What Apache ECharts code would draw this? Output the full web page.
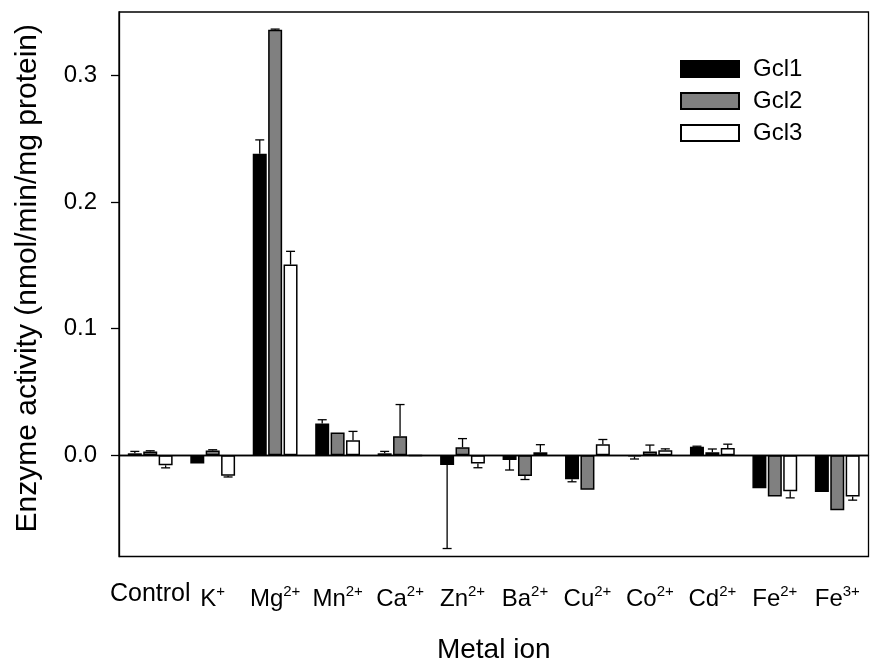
<!DOCTYPE html>
<html>
<head>
<meta charset="utf-8">
<script src="https://cdn.jsdelivr.net/npm/echarts@6/dist/echarts.min.js"></script>
<style>html,body{margin:0;padding:0;background:#fff;}#c{width:870px;height:667px;}</style>
</head>
<body>
<div id="c"></div>
<script>
// Categories (ion symbol + charge superscript)
var ionNames   = ['Control','K','Mg','Mn','Ca','Zn','Ba','Cu','Co','Cd','Fe','Fe'];
var ionCharges = ['', '+', '2+', '2+', '2+', '2+', '2+', '2+', '2+', '2+', '2+', '3+'];

// Series values (nmol/min/mg protein) and error bars
var gcl1    = [0.0015, -0.0065, 0.238, 0.025, 0.0015, -0.0077, -0.0037, -0.019, -0.001, 0.0066, -0.0262, -0.029];
var gcl1Err = [0.0015, 0, 0.011, 0.003, 0.0015, 0.066, 0.008, 0.002, 0.002, 0.0005, 0, 0];
var gcl2    = [0.003, 0.0038, 0.336, 0.018, 0.015, 0.0063, -0.0165, -0.0272, 0.003, 0.0024, -0.0327, -0.0434];
var gcl2Err = [0.0005, 0.0005, 0.0005, 0, 0.025, 0.0068, 0.0027, 0, 0.005, 0.0025, 0, 0];
var gcl3    = [-0.008, -0.0162, 0.1505, 0.0118, -0.0004, -0.0065, 0.0023, 0.0087, 0.004, 0.0056, -0.0284, -0.0327];
var gcl3Err = [0.002, 0.001, 0.0105, 0.007, 0, 0.0034, 0.006, 0.0037, 0.001, 0.0031, 0.0053, 0.0028];

// Tick labels
var yTicks = [0, 0.1, 0.2, 0.3];

var FONT = 'Liberation Sans, Arial, Helvetica, sans-serif';
var BAR_W = 14;
var BAR_GAP = 0.1;

var categories = ionNames.map(function (n, i) { return n + ionCharges[i]; });

function errSeries(name, vals, errs, k) {
  return {
    type: 'custom',
    name: name + ' err',
    z: 5,
    silent: true,
    data: vals.map(function (v, i) { return [i, v, errs[i]]; }),
    renderItem: function (params, api) {
      var idx = api.value(0), v = api.value(1), e = api.value(2);
      if (!e) return null;
      var sign = v < 0 ? -1 : 1;
      var p0 = api.coord([idx, v]);
      var p1 = api.coord([idx, v + sign * e]);
      var x = p0[0] + (k - 1) * BAR_W * (1 + BAR_GAP);
      var st = { stroke: '#000', lineWidth: 1.3 };
      return {
        type: 'group',
        children: [
          { type: 'line', shape: { x1: x, y1: p0[1], x2: x, y2: p1[1] }, style: st },
          { type: 'line', shape: { x1: x - 4.5, y1: p1[1], x2: x + 4.5, y2: p1[1] }, style: st }
        ]
      };
    }
  };
}

function barSeries(name, vals, color) {
  return {
    type: 'bar',
    name: name,
    data: vals,
    barWidth: BAR_W,
    barGap: (BAR_GAP * 100) + '%',
    itemStyle: { color: color, borderColor: '#000', borderWidth: 1.5 },
    emphasis: { disabled: true }
  };
}

var b1 = barSeries('Gcl1', gcl1, '#000000');
b1.markLine = {
  silent: true, symbol: 'none', label: { show: false },
  lineStyle: { color: '#000', type: 'solid', width: 1.3 },
  data: [{ yAxis: 0 }]
};

var chart = echarts.init(document.getElementById('c'), null, { renderer: 'canvas' });
chart.setOption({
  animation: false,
  backgroundColor: '#fff',
  grid: { left: 119, right: 1.5, top: 12, bottom: 110.5, show: true, borderColor: '#000', borderWidth: 1.3, backgroundColor: 'transparent', outerBoundsMode: 'none', containLabel: false },
  legend: {
    data: ['Gcl1', 'Gcl2', 'Gcl3'],
    orient: 'vertical', left: 680, top: 57, padding: 0,
    itemWidth: 58, itemHeight: 16, itemGap: 8,
    icon: 'rect',
    textStyle: { fontFamily: FONT, fontSize: 24, color: '#000', lineHeight: 16, padding: [0, 0, 0, 9] },
    selectedMode: false
  },
  xAxis: {
    type: 'category',
    data: categories,
    name: 'Metal ion',
    nameLocation: 'middle',
    nameGap: 80,
    nameTextStyle: { fontFamily: FONT, fontSize: 28, color: '#000', verticalAlign: 'top' },
    axisLine: { lineStyle: { color: '#000', width: 1.3 } },
    axisTick: { alignWithLabel: true, length: 8, lineStyle: { color: '#000', width: 1.3 } },
    axisLabel: {
      interval: 0, margin: 21, color: '#000',
      formatter: function (val, i) {
        var c = ionCharges[i];
        if (!c) return '{ctl|' + ionNames[i] + '}';
        return '{b|' + ionNames[i] + '}{s|' + c + '}';
      },
      rich: {
        ctl: { fontFamily: FONT, fontSize: 25, lineHeight: 34, color: '#000', verticalAlign: 'top', padding: [4, 0, 0, 0] },
        b: { fontFamily: FONT, fontSize: 24, lineHeight: 34, color: '#000', verticalAlign: 'bottom' },
        s: { fontFamily: FONT, fontSize: 15, lineHeight: 34, color: '#000', verticalAlign: 'top', padding: [7, 0, 0, 0] }
      }
    },
    splitLine: { show: false }
  },
  yAxis: {
    type: 'value',
    min: -0.08, max: 0.35,
    name: 'Enzyme activity (nmol/min/mg protein)',
    nameLocation: 'middle',
    nameGap: 76,
    nameTextStyle: { fontFamily: FONT, fontSize: 30, color: '#000', padding: [0, 0, 0, 12] },
    axisLine: { show: true, lineStyle: { color: '#000', width: 1.3 } },
    axisTick: { show: true, length: 8, customValues: yTicks, lineStyle: { color: '#000', width: 1.3 } },
    axisLabel: {
      customValues: yTicks, margin: 22, color: '#000', fontFamily: FONT, fontSize: 24,
      formatter: function (v) { return v.toFixed(1); }
    },
    splitLine: { show: false }
  },
  series: [
    b1,
    barSeries('Gcl2', gcl2, '#808080'),
    barSeries('Gcl3', gcl3, '#ffffff'),
    errSeries('Gcl1', gcl1, gcl1Err, 0),
    errSeries('Gcl2', gcl2, gcl2Err, 1),
    errSeries('Gcl3', gcl3, gcl3Err, 2)
  ]
});
</script>
</body>
</html>
